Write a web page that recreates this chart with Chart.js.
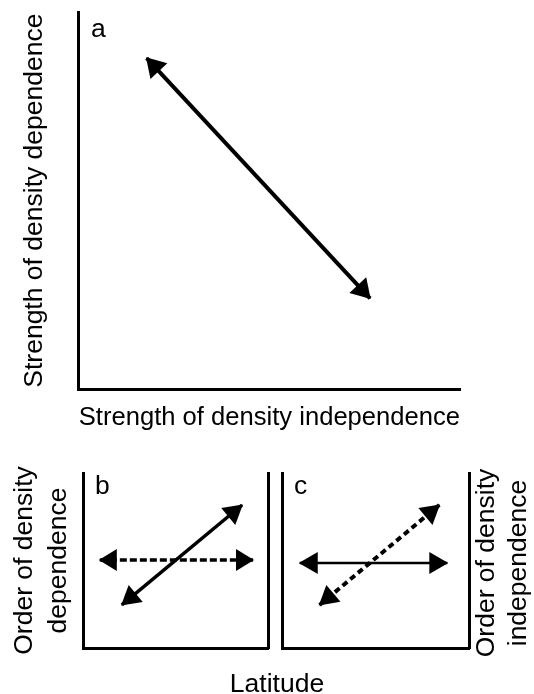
<!DOCTYPE html>
<html>
<head>
<meta charset="utf-8">
<title>Density dependence vs density independence</title>
<script src="https://cdn.jsdelivr.net/npm/chart.js@4.4.1/dist/chart.umd.min.js"></script>
<style>
  html, body { margin: 0; padding: 0; background: #fff; }
  #wrap { position: relative; width: 534px; height: 694px; font-family: "Liberation Sans", Arial, sans-serif; }
  #wrap canvas { position: absolute; }
  #latitude { position: absolute; left: 177px; top: 668px; width: 200px; text-align: center;
              font-size: 26.5px; line-height: 30px; color: #000; }
</style>
</head>
<body>
<div id="wrap">
  <canvas id="panelA" width="534" height="440" style="left:0;top:0"></canvas>
  <canvas id="panelB" width="275" height="254" style="left:0;top:440px"></canvas>
  <canvas id="panelC" width="259" height="254" style="left:275px;top:440px"></canvas>
  <div id="latitude"></div>
</div>
<script>
  // ── Data (conceptual axes run 0..10) ─────────────────────────
  const axisMin = 0;
  const axisMax = 10;

  // a: strength of density dependence vs strength of density independence
  const aX = [1.78, 7.64];
  const aY = [8.78, 2.41];

  // b: order of density dependence vs latitude
  const bSolidX = [2.10, 8.60];
  const bSolidY = [2.46, 8.17];
  const bDashX = [0.91, 9.19];
  const bDashY = [5.03, 5.03];

  // c: order of density independence vs latitude
  const cSolidX = [0.95, 8.84];
  const cSolidY = [4.86, 4.86];
  const cDashX = [2.01, 8.41];
  const cDashY = [2.46, 8.17];

  // ── Text ─────────────────────────────────────────────────────
  const panelLetters = ["a", "b", "c"];
  const aXTitle = "Strength of density independence";
  const aYTitle = "Strength of density dependence";
  const bYTitle = ["Order of density", "dependence"];
  const cYTitle = ["Order of density", "independence"];
  const sharedXTitle = "Latitude";

  const FONT = '"Liberation Sans", Arial, sans-serif';
  const FONT_SIZE = 26.5;
  Chart.defaults.font.family = FONT;
  Chart.defaults.color = "#000";
  Chart.defaults.animation = false;

  const $ = (id) => document.getElementById(id);
  $("latitude").textContent = sharedXTitle;

  const pts = (xs, ys) => xs.map((x, i) => ({ x, y: ys[i] }));

  function arrowSet(xs, ys, opts) {
    return {
      data: pts(xs, ys),
      showLine: true,
      fill: false,
      borderColor: "#000",
      backgroundColor: "#000",
      borderWidth: opts.width,
      borderDash: opts.dash || [],
      pointRadius: 0,
      pointHoverRadius: 0,
      headLength: opts.headLength,
      headWidth: opts.headWidth
    };
  }

  function titleOpts(text, padTop, padBottom, lineHeight) {
    return {
      display: true,
      text,
      color: "#000",
      font: { size: FONT_SIZE, lineHeight: lineHeight || 1.2 },
      padding: { top: padTop, bottom: padBottom }
    };
  }

  function frameAxis(position, title) {
    return {
      type: "linear",
      position,
      min: axisMin,
      max: axisMax,
      grid: { display: false, drawTicks: false },
      ticks: { display: false },
      border: { display: true, color: "#000", width: 3 },
      title: title || { display: false }
    };
  }

  // ── Plugins ──────────────────────────────────────────────────
  // filled triangle heads on both ends of every line
  const arrowHeads = {
    id: "arrowHeads",
    afterDatasetsDraw(chart) {
      const ctx = chart.ctx;
      chart.data.datasets.forEach((ds, i) => {
        const p = chart.getDatasetMeta(i).data;
        if (p.length < 2) return;
        const ends = [[p[0], p[1]], [p[p.length - 1], p[p.length - 2]]];
        ends.forEach(([tip, from]) => {
          const ang = Math.atan2(tip.y - from.y, tip.x - from.x);
          ctx.save();
          ctx.translate(tip.x, tip.y);
          ctx.rotate(ang);
          ctx.beginPath();
          ctx.moveTo(1, 0);
          ctx.lineTo(-ds.headLength, -ds.headWidth / 2);
          ctx.lineTo(-ds.headLength, ds.headWidth / 2);
          ctx.closePath();
          ctx.fillStyle = ds.borderColor;
          ctx.fill();
          ctx.restore();
        });
      });
    }
  };

  // free text (panel letters, rotated right-hand title)
  const textMarks = (items) => ({
    id: "textMarks",
    afterDraw(chart) {
      const ctx = chart.ctx;
      items.forEach((it) => {
        ctx.save();
        ctx.font = FONT_SIZE + "px " + FONT;
        ctx.fillStyle = "#000";
        ctx.textAlign = it.align || "left";
        ctx.textBaseline = it.baseline || "alphabetic";
        ctx.translate(it.x, it.y);
        if (it.rotate) ctx.rotate(it.rotate);
        ctx.fillText(it.text, 0, 0);
        ctx.restore();
      });
    }
  });

  const baseOptions = (padding, scales) => ({
    responsive: false,
    events: [],
    layout: { padding },
    plugins: { legend: { display: false }, tooltip: { enabled: false } },
    scales
  });

  // ── Panel a ──────────────────────────────────────────────────
  new Chart($("panelA"), {
    type: "scatter",
    data: {
      datasets: [arrowSet(aX, aY, { width: 4, headLength: 18, headWidth: 23 })]
    },
    options: baseOptions({ left: 0, top: 12, right: 74, bottom: 0 }, {
      x: frameAxis("bottom", titleOpts(aXTitle, 13, 6)),
      y: frameAxis("left", titleOpts(aYTitle, 19, 28))
    }),
    plugins: [arrowHeads, textMarks([{ text: panelLetters[0], x: 91, y: 37 }])]
  });

  // ── Panel b ──────────────────────────────────────────────────
  new Chart($("panelB"), {
    type: "scatter",
    data: {
      datasets: [
        arrowSet(bSolidX, bSolidY, { width: 3.5, headLength: 18, headWidth: 22 }),
        arrowSet(bDashX, bDashY, { width: 3.5, dash: [7, 3], headLength: 17, headWidth: 22 })
      ]
    },
    options: baseOptions({ left: 0, top: 33, right: 7, bottom: 46 }, {
      x: frameAxis("bottom"),
      y: frameAxis("left", titleOpts(bYTitle, 8, 7, "34px")),
      y2: frameAxis("right")
    }),
    plugins: [arrowHeads, textMarks([{ text: panelLetters[1], x: 95, y: 54 }])]
  });

  // ── Panel c ──────────────────────────────────────────────────
  new Chart($("panelC"), {
    type: "scatter",
    data: {
      datasets: [
        arrowSet(cSolidX, cSolidY, { width: 2.5, headLength: 18, headWidth: 22 }),
        arrowSet(cDashX, cDashY, { width: 4, dash: [6, 4], headLength: 18, headWidth: 22 })
      ]
    },
    options: baseOptions({ left: 7, top: 33, right: 65, bottom: 46 }, {
      x: frameAxis("bottom"),
      y: frameAxis("left"),
      y2: frameAxis("right")
    }),
    plugins: [arrowHeads, textMarks([
      { text: panelLetters[2], x: 19, y: 54 },
      { text: cYTitle[0], x: 212, y: 123, rotate: -Math.PI / 2, align: "center", baseline: "middle" },
      { text: cYTitle[1], x: 244, y: 123, rotate: -Math.PI / 2, align: "center", baseline: "middle" }
    ])]
  });
</script>
</body>
</html>
